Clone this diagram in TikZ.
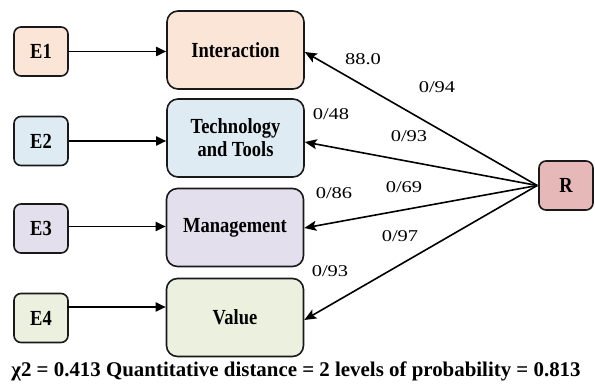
\documentclass[tikz,border=0pt]{standalone}
\usepackage{fontspec}
\setmainfont{Liberation Serif}
\newfontfamily\boxfont[FakeStretch=0.86]{Liberation Serif Bold}
\newfontfamily\capfont{Liberation Serif Bold}
\newfontfamily\labfont[FakeStretch=1.24]{Liberation Serif}
\usetikzlibrary{arrows.meta}
\definecolor{cA}{RGB}{251,229,214}
\definecolor{cB}{RGB}{222,235,243}
\definecolor{cC}{RGB}{228,223,236}
\definecolor{cD}{RGB}{235,241,222}
\definecolor{cR}{RGB}{230,185,184}
\definecolor{bord}{RGB}{25,25,25}
\tikzset{
  ebox/.style={draw=bord, line width=1.6pt, rounded corners=7pt, minimum width=54pt, minimum height=49pt, inner sep=0pt, font=\boxfont\fontsize{21.5}{23}\selectfont},
  mbox/.style={draw=bord, line width=1.6pt, rounded corners=11pt, minimum width=137pt, minimum height=78pt, inner sep=0pt, align=center, font=\boxfont\fontsize{21.5}{23}\selectfont},
  earrow/.style={line width=1.8pt, -{Triangle[length=10pt,width=9pt]}},
  rarrow/.style={line width=1.6pt, -{Stealth[length=12pt,width=10pt,inset=2.5pt]}},
  lab/.style={font=\labfont\fontsize{16.5}{18}\selectfont, inner sep=0pt}
}
\begin{document}
\begin{tikzpicture}[x=1pt,y=-1pt]
\useasboundingbox (0,0) rectangle (595,387);
\node[ebox, fill=cA] (E1) at (41,51.5) {E1};
\node[ebox, fill=cB] (E2) at (41,141) {E2};
\node[ebox, fill=cC] (E3) at (41,228.5) {E3};
\node[ebox, fill=cD] (E4) at (41,318) {E4};
\node[mbox, fill=cA] (I) at (235.5,50) {Interaction};
\node[mbox, fill=cB] (T) at (235.5,138) {Technology\\and Tools};
\node[mbox, fill=cC] (M) at (235,227.5) {Management};
\node[mbox, fill=cD] (V) at (235,317.5) {Value};
\node[ebox, fill=cR] (R) at (566,185.5) {R};
\draw[earrow] (E1.east) -- (E1.east -| I.west);
\draw[earrow] (E2.east) -- (E2.east -| T.west);
\draw[earrow] ([yshift=2pt]E3.east) -- ([yshift=2pt]E3.east -| M.west);
\draw[earrow] ([yshift=11pt,xshift=-2pt]E4.east) -- ([yshift=11pt]E4.east -| V.west);
\draw[rarrow] ([xshift=-1pt]R.west) -- ([yshift=-2pt]I.east);
\draw[rarrow] ([xshift=-1pt]R.west) -- ([yshift=-4pt]T.east);
\draw[rarrow] ([xshift=-1pt]R.west) -- ([yshift=-0.5pt]M.east);
\draw[rarrow] ([xshift=-1pt]R.west) -- ([yshift=-2.5pt]V.east);
\node[lab] (l1) at (363,59) {88.0};
\node[lab] (l2) at (437,87) {0/94};
\node[lab] (l3) at (331,114) {0/48};
\node[lab] (l4) at (409,136) {0/93};
\node[lab] (l5) at (334,193) {0/86};
\node[lab] (l6) at (404,187) {0/69};
\node[lab] (l7) at (400,236) {0/97};
\node[lab] (l8) at (330,271) {0/93};
\node[font=\capfont\fontsize{20.9}{23}\selectfont, inner sep=0pt] (cap) at (296,371) {χ2 = 0.413 Quantitative distance = 2 levels of probability = 0.813};
\end{tikzpicture}
\end{document}
